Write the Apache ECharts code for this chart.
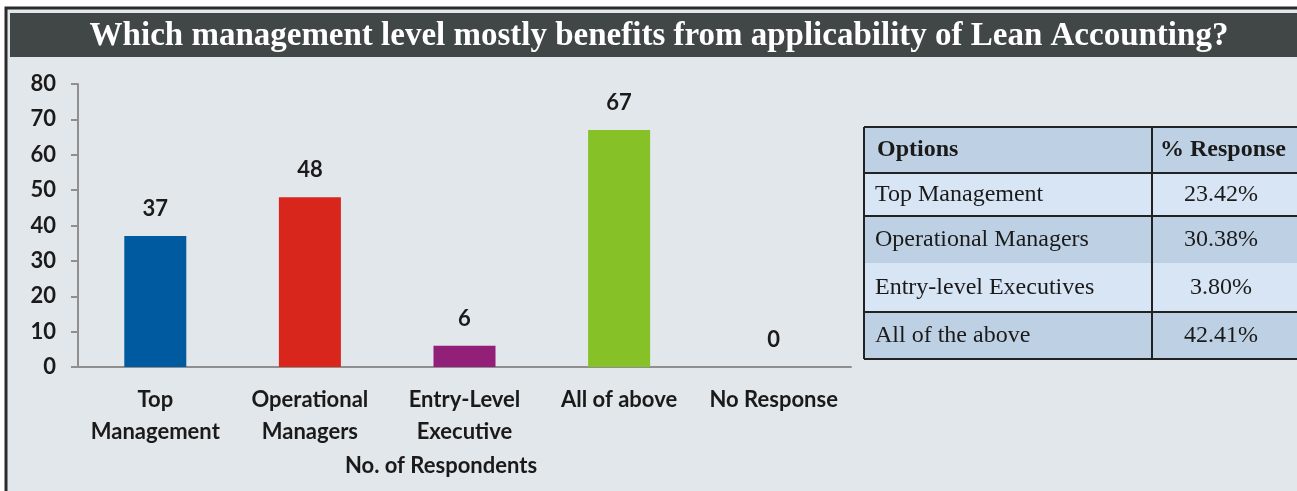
<!DOCTYPE html>
<html><head><meta charset="utf-8">
<script src="https://cdn.jsdelivr.net/npm/echarts@6/dist/echarts.min.js"></script>
<style>html,body{margin:0;padding:0;background:#fff}#c{width:1297px;height:491px}</style>
</head><body><div id="c"></div>
<script>
const categories = ['Top\nManagement', 'Operational\nManagers', 'Entry-Level\nExecutive', 'All of above', 'No Response'];
const respondents = [37, 48, 6, 67, 0];
const barColors = ['#005a9f', '#d9261c', '#921f78', '#86c127', '#888888'];
const yTicks = [0, 10, 20, 30, 40, 50, 60, 70, 80];
const tableHeader = ['Options', '% Response'];
const tableOptions = ['Top Management', 'Operational Managers', 'Entry-level Executives', 'All of the above'];
const tablePercent = ['23.42%', '30.38%', '3.80%', '42.41%'];

const chart = echarts.init(document.getElementById('c'));
const sans = 'Lato';

const tx = 864, tc = 1152, tr = 1300;
const rowY = [127, 173, 216, 263, 312, 359];
const rowFill = ['#bed1e4', '#d8e5f4', '#bed1e4', '#d8e5f4', '#bed1e4'];
const g = [];
g.push({type:'rect', shape:{x:6,y:8,width:1300,height:500}, style:{fill:'#e2e7eb', stroke:'#2a2a2a', lineWidth:3}, z:-10});
g.push({type:'rect', shape:{x:10,y:13,width:1290,height:44}, style:{fill:'#414646'}, z:-5});
g.push({type:'text', x:659, y:36, style:{text:'Which management level mostly benefits from applicability of Lean Accounting?', fill:'#ffffff', font:'bold 33px "Liberation Serif"', align:'center', verticalAlign:'middle'}});
for (let i = 0; i < 5; i++) {
  g.push({type:'rect', shape:{x:tx, y:rowY[i], width:tr-tx, height:rowY[i+1]-rowY[i]}, style:{fill:rowFill[i]}, z:1});
}
const lineStyle = {stroke:'#222222', lineWidth:2};
[0,1,2,4,5].forEach(i => g.push({type:'line', shape:{x1:tx,y1:rowY[i],x2:tr,y2:rowY[i]}, style:lineStyle, z:2}));
g.push({type:'line', shape:{x1:tx,y1:rowY[0],x2:tx,y2:rowY[5]}, style:lineStyle, z:2});
g.push({type:'line', shape:{x1:tc,y1:rowY[0],x2:tc,y2:rowY[5]}, style:lineStyle, z:2});
g.push({type:'text', x:877, y:(rowY[0]+rowY[1])/2, style:{text:tableHeader[0], fill:'#1a1a1a', font:'bold 24px "Liberation Serif"', verticalAlign:'middle'}, z:3});
g.push({type:'text', x:1223, y:(rowY[0]+rowY[1])/2, style:{text:tableHeader[1], fill:'#1a1a1a', font:'bold 24px "Liberation Serif"', align:'center', verticalAlign:'middle'}, z:3});
for (let i = 0; i < 4; i++) {
  const cy = (rowY[i+1]+rowY[i+2])/2;
  g.push({type:'text', x:875, y:cy, style:{text:tableOptions[i], fill:'#1a1a1a', font:'24px "Liberation Serif"', verticalAlign:'middle'}, z:3});
  g.push({type:'text', x:1221, y:cy, style:{text:tablePercent[i], fill:'#1a1a1a', font:'24px "Liberation Serif"', align:'center', verticalAlign:'middle'}, z:3});
}
g.push({type:'text', x:441, y:466, style:{text:'No. of Respondents', fill:'#1a1a1a', font:'bold 22px Lato', align:'center', verticalAlign:'middle'}});

chart.setOption({
  animation:false,
  backgroundColor:'#ffffff',
  graphic:g,
  grid:{left:78, right:446, top:84, bottom:124, containLabel:false},
  xAxis:{type:'category', data:categories,
    axisLine:{lineStyle:{color:'#8f8f8f', width:2}},
    axisTick:{alignWithLabel:false, length:7, lineStyle:{color:'#8f8f8f', width:2}},
    axisLabel:{interval:0, color:'#1a1a1a', fontFamily:sans, fontWeight:'bold', fontSize:22, lineHeight:32, margin:17}},
  yAxis:{type:'value', min:0, max:80, interval:10,
    splitLine:{show:false},
    axisLine:{show:true, lineStyle:{color:'#8f8f8f', width:2}},
    axisTick:{show:true, length:7, lineStyle:{color:'#8f8f8f', width:2}},
    axisLabel:{color:'#1a1a1a', fontFamily:sans, fontWeight:'bold', fontSize:22, margin:22}},
  series:[{type:'bar', barWidth:62,
    data: respondents.map((v,i)=>({value:v, itemStyle:{color:barColors[i]}})),
    label:{show:true, position:'top', distance:16, color:'#1a1a1a', fontFamily:sans, fontWeight:'bold', fontSize:22}}]
});
</script></body></html>
